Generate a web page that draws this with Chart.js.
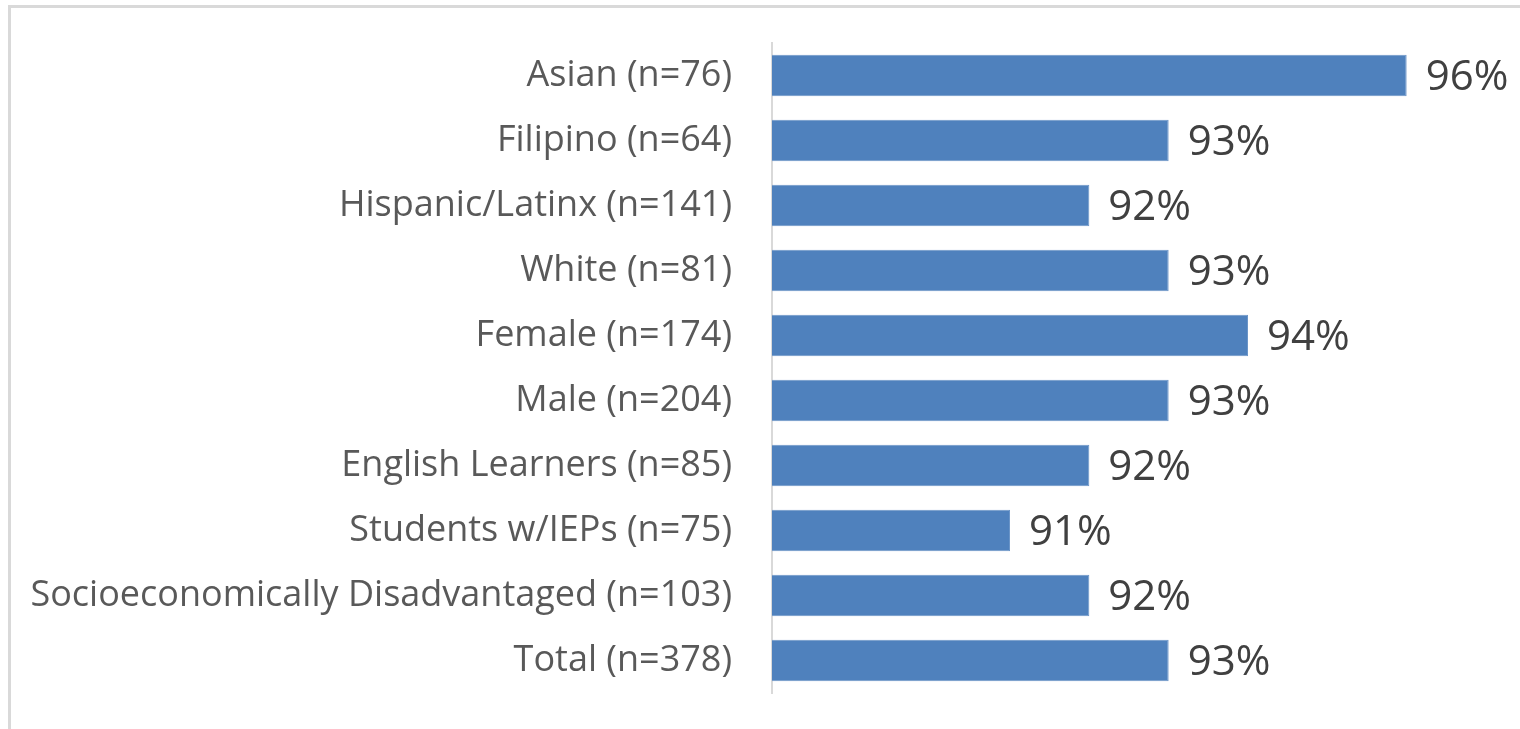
<!DOCTYPE html>
<html>
<head>
<meta charset="utf-8">
<script src="https://cdn.jsdelivr.net/npm/chart.js@4.4.0/dist/chart.umd.min.js"></script>
<style>
  html, body { margin: 0; padding: 0; background: #fff; overflow: hidden; }
  #frame { position: absolute; left: 8px; top: 5px; width: 1530px; height: 740px; border: 3px solid #d9d9d9; box-sizing: border-box; }
  #bars { position: absolute; left: 0; top: 0; }
</style>
</head>
<body>
<div id="frame"></div>
<canvas id="bars" width="1520" height="729"></canvas>
<script>
var groups = [
  'Asian (n=76)',
  'Filipino (n=64)',
  'Hispanic/Latinx (n=141)',
  'White (n=81)',
  'Female (n=174)',
  'Male (n=204)',
  'English Learners (n=85)',
  'Students w/IEPs (n=75)',
  'Socioeconomically Disadvantaged (n=103)',
  'Total (n=378)'
];
var percents = [96, 93, 92, 93, 94, 93, 92, 91, 92, 93];

// draws "96%" just past the end of each bar
var valueLabels = {
  id: 'valueLabels',
  afterDatasetsDraw: function(chart) {
    var ctx = chart.ctx;
    var meta = chart.getDatasetMeta(0);
    ctx.save();
    ctx.font = '42px "Open Sans"';
    ctx.fillStyle = '#404040';
    ctx.textAlign = 'left';
    ctx.textBaseline = 'middle';
    meta.data.forEach(function(bar, i) {
      ctx.fillText(percents[i] + '%', bar.x + 19, bar.y + 3);
    });
    ctx.restore();
  }
};

var ctx = document.getElementById('bars');
var myChart = new Chart(ctx, {
  type: 'bar',
  data: {
    labels: groups,
    datasets: [{
      data: percents,
      backgroundColor: '#4f81bd',
      borderColor: '#6b95c8',
      borderWidth: 1,
      categoryPercentage: 1,
      barPercentage: 0.64
    }]
  },
  options: {
    indexAxis: 'y',
    responsive: false,
    animation: false,
    layout: { padding: { top: 43, bottom: 36, right: 34, left: 0 } },
    plugins: { legend: { display: false }, tooltip: { enabled: false } },
    scales: {
      x: { display: false, min: 88, max: 97 },
      y: {
        grid: { display: false, drawTicks: false },
        border: { display: true, color: '#d9d9d9', width: 2 },
        ticks: { color: '#595959', padding: 40, font: { family: 'Open Sans', size: 36 } },
        afterFit: function(scale) {
          scale.width = 772;
          scale.paddingTop = 0;
          scale.paddingBottom = 0;
        }
      }
    }
  },
  plugins: [valueLabels]
});
</script>
</body>
</html>
